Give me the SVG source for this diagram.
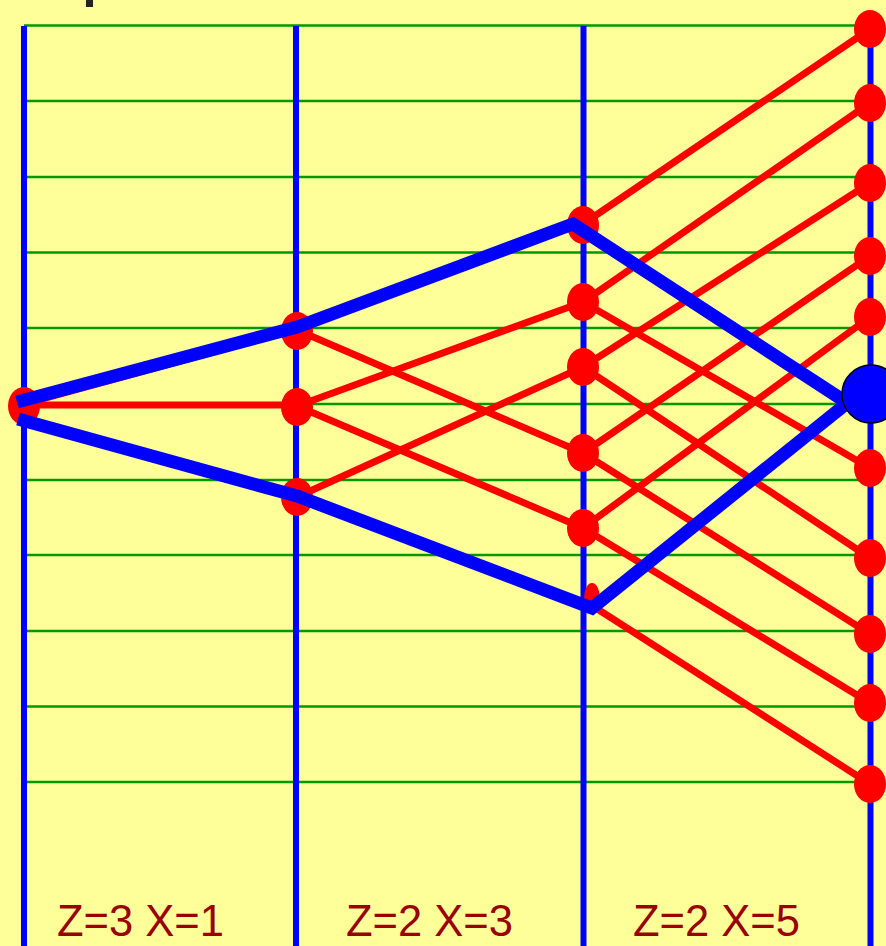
<svg xmlns="http://www.w3.org/2000/svg" width="886" height="946" viewBox="0 0 886 946">
<style>
.grid line{stroke:#009900;stroke-width:2.5}
.axis line{stroke:#0000FF;stroke-width:6}
.edge{stroke:#FF0000;stroke-width:7;fill:none}
.path{stroke:#0000FF;stroke-width:13;fill:none;stroke-linecap:butt;stroke-linejoin:miter}
.node{fill:#FF0000}
.label{font-family:"Liberation Sans",Arial,sans-serif;font-size:44px;fill:#990000}
</style>
<rect x="0" y="0" width="886" height="946" fill="#FFFF99"/>
<rect x="86" y="0" width="7" height="7" fill="#222222"/>
<g class="grid">
<line x1="24" y1="25.5" x2="870" y2="25.5"/>
<line x1="24" y1="101" x2="870" y2="101"/>
<line x1="24" y1="177" x2="870" y2="177"/>
<line x1="24" y1="252.5" x2="870" y2="252.5"/>
<line x1="24" y1="328" x2="870" y2="328"/>
<line x1="24" y1="404" x2="870" y2="404"/>
<line x1="24" y1="480" x2="870" y2="480"/>
<line x1="24" y1="555" x2="870" y2="555"/>
<line x1="24" y1="631" x2="870" y2="631"/>
<line x1="24" y1="706.5" x2="870" y2="706.5"/>
<line x1="24" y1="782" x2="870" y2="782"/>
</g>
<g class="axis">
<line x1="24" y1="26" x2="24" y2="946"/>
<line x1="296" y1="26" x2="296" y2="946"/>
<line x1="583.5" y1="26" x2="583.5" y2="946"/>
<line x1="870.5" y1="26" x2="870.5" y2="946"/>
</g>
<g id="connectors">
<line class="edge" x1="24" y1="405" x2="297" y2="405"/>
<line class="edge" x1="24" y1="404" x2="297" y2="329"/>
<line class="edge" x1="24" y1="418" x2="297" y2="496"/>
<line class="edge" x1="297" y1="328" x2="574" y2="225"/>
<line class="edge" x1="297" y1="330" x2="583" y2="453"/>
<line class="edge" x1="297" y1="406" x2="583" y2="302"/>
<line class="edge" x1="297" y1="406" x2="583" y2="528"/>
<line class="edge" x1="297" y1="497" x2="583" y2="367"/>
<line class="edge" x1="297" y1="498" x2="591" y2="607"/>
<line class="edge" x1="583" y1="224" x2="870" y2="29"/>
<line class="edge" x1="575" y1="226" x2="848" y2="404"/>
<line class="edge" x1="583" y1="302" x2="870" y2="103"/>
<line class="edge" x1="583" y1="302" x2="870" y2="468"/>
<line class="edge" x1="583" y1="367" x2="870" y2="183"/>
<line class="edge" x1="583" y1="367" x2="870" y2="558"/>
<line class="edge" x1="583" y1="453" x2="870" y2="256"/>
<line class="edge" x1="583" y1="453" x2="870" y2="634"/>
<line class="edge" x1="583" y1="528" x2="870" y2="317"/>
<line class="edge" x1="583" y1="528" x2="870" y2="703"/>
<line class="edge" x1="592" y1="606" x2="846" y2="404"/>
<line class="edge" x1="588" y1="603" x2="870" y2="784"/>
</g>
<g id="nodes">
<ellipse id="n1" class="node" cx="24" cy="406" rx="16" ry="19"/>
<ellipse id="n2a" class="node" cx="297" cy="331" rx="16" ry="19"/>
<ellipse id="n2b" class="node" cx="297" cy="407" rx="16" ry="19"/>
<ellipse id="n2c" class="node" cx="297" cy="497" rx="16" ry="19"/>
<ellipse id="n3a" class="node" cx="583" cy="225" rx="16" ry="19"/>
<ellipse id="n3b" class="node" cx="583" cy="302" rx="16" ry="19"/>
<ellipse id="n3c" class="node" cx="583" cy="367" rx="16" ry="19"/>
<ellipse id="n3d" class="node" cx="583" cy="453" rx="16" ry="19"/>
<ellipse id="n3e" class="node" cx="583" cy="528" rx="16" ry="19"/>
<ellipse id="n3f" class="node" cx="592" cy="598" rx="8" ry="15"/>
<ellipse id="n4a" class="node" cx="870" cy="29" rx="16" ry="19"/>
<ellipse id="n4b" class="node" cx="870" cy="103" rx="16" ry="19"/>
<ellipse id="n4c" class="node" cx="870" cy="183" rx="16" ry="19"/>
<ellipse id="n4d" class="node" cx="870" cy="256" rx="16" ry="19"/>
<ellipse id="n4e" class="node" cx="870" cy="317" rx="16" ry="19"/>
<ellipse id="n4g" class="node" cx="870" cy="468" rx="16" ry="19"/>
<ellipse id="n4h" class="node" cx="870" cy="558" rx="16" ry="19"/>
<ellipse id="n4i" class="node" cx="870" cy="634" rx="16" ry="19"/>
<ellipse id="n4j" class="node" cx="870" cy="703" rx="16" ry="19"/>
<ellipse id="n4k" class="node" cx="870" cy="784" rx="16" ry="19"/>
</g>
<g id="path">
<polyline class="path" points="17,402 297,327 573,224 846,402"/>
<polyline class="path" points="18,419 297,496 592,608 846,404"/>
</g>
<g id="target">
<circle cx="871" cy="394" r="29" fill="#0000FF" stroke="#000000" stroke-width="1.5"/>
</g>
<g id="labels">
<text class="label" x="57" y="936" textLength="167" lengthAdjust="spacingAndGlyphs">Z=3 X=1</text>
<text class="label" x="346" y="936" textLength="167" lengthAdjust="spacingAndGlyphs">Z=2 X=3</text>
<text class="label" x="633" y="936" textLength="167" lengthAdjust="spacingAndGlyphs">Z=2 X=5</text>
</g>
</svg>
